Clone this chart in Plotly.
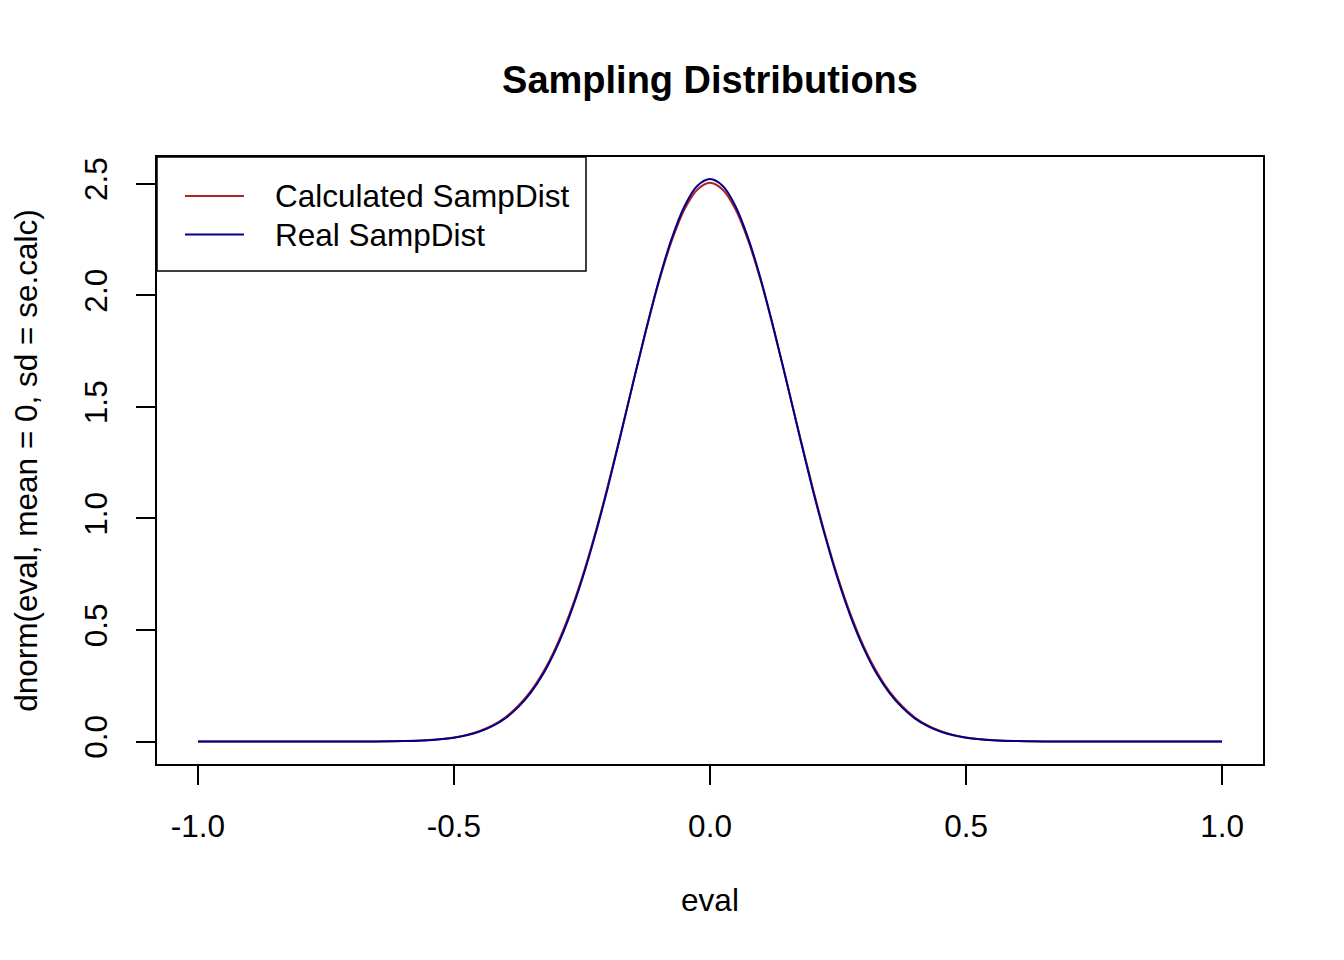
import plotly.graph_objects as go

# ---- data ----
eval_x = [-1.00, -0.95, -0.90, -0.85, -0.80, -0.75, -0.70, -0.65, -0.60, -0.55,
          -0.500, -0.475, -0.450, -0.425, -0.400, -0.375, -0.350, -0.325, -0.300, -0.275,
          -0.250, -0.225, -0.200, -0.175, -0.150, -0.125, -0.100, -0.075, -0.050, -0.025,
          0.000,
          0.025, 0.050, 0.075, 0.100, 0.125, 0.150, 0.175, 0.200, 0.225, 0.250,
          0.275, 0.300, 0.325, 0.350, 0.375, 0.400, 0.425, 0.450, 0.475, 0.500,
          0.55, 0.60, 0.65, 0.70, 0.75, 0.80, 0.85, 0.90, 0.95, 1.00]

calc_density = [0.0, 0.0, 0.0, 0.0, 0.0, 0.0, 0.0001, 0.0006, 0.0021, 0.0066,
                0.0185, 0.0299, 0.047, 0.0723, 0.108, 0.159, 0.226, 0.315, 0.428, 0.568,
                0.734, 0.927, 1.142, 1.373, 1.611, 1.843, 2.059, 2.243, 2.385, 2.474,
                2.505,
                2.474, 2.385, 2.243, 2.059, 1.843, 1.611, 1.373, 1.142, 0.927, 0.734,
                0.568, 0.428, 0.315, 0.226, 0.159, 0.108, 0.0723, 0.047, 0.0299, 0.0185,
                0.0066, 0.0021, 0.0006, 0.0001, 0.0, 0.0, 0.0, 0.0, 0.0, 0.0]

real_density = [0.0, 0.0, 0.0, 0.0, 0.0, 0.0, 0.0001, 0.0005, 0.0019, 0.0060,
                0.0172, 0.0280, 0.0444, 0.0686, 0.104, 0.153, 0.219, 0.306, 0.419, 0.558,
                0.725, 0.919, 1.135, 1.369, 1.610, 1.846, 2.066, 2.254, 2.399, 2.491,
                2.522,
                2.491, 2.399, 2.254, 2.066, 1.846, 1.610, 1.369, 1.135, 0.919, 0.725,
                0.558, 0.419, 0.306, 0.219, 0.153, 0.104, 0.0686, 0.0444, 0.0280, 0.0172,
                0.0060, 0.0019, 0.0005, 0.0001, 0.0, 0.0, 0.0, 0.0, 0.0, 0.0]

series_names = ["Calculated SampDist", "Real SampDist"]
series_colors = ["firebrick", "darkblue"]

x_tick_vals = [-1.0, -0.5, 0.0, 0.5, 1.0]
x_tick_text = ["-1.0", "-0.5", "0.0", "0.5", "1.0"]
y_tick_vals = [0.0, 0.5, 1.0, 1.5, 2.0, 2.5]
y_tick_text = ["0.0", "0.5", "1.0", "1.5", "2.0", "2.5"]

FONT = "Liberation Sans, Arial, Helvetica, sans-serif"
FS = 31.5

fig = go.Figure()
for name, ys, col in zip(series_names, [calc_density, real_density], series_colors):
    fig.add_trace(go.Scatter(x=eval_x, y=ys, mode="lines", name=name,
                             line=dict(color=col, width=2, shape="spline"),
                             showlegend=False))

# page has an 8px body margin; figure drawn at (8, 8)
OFF = 8
W, H = 1344 - 2 * OFF, 960 - 2 * OFF
# target plot area in page pixels: left 157, right 1263, top 157, bottom 764
L, R, T, B = 157, 1263, 157, 764
def px(xp):
    return (xp - L) / (R - L)
def py(yp):
    return (B - yp) / (B - T)

fig.update_layout(
    width=W, height=H,
    margin=dict(l=L - OFF, r=W - (R - OFF), t=T - OFF, b=H - (B - OFF), pad=0),
    paper_bgcolor="white", plot_bgcolor="white",
    font=dict(family=FONT, size=FS, color="black"),
    title=dict(text="<b>Sampling Distributions</b>", x=((L + R) / 2 - OFF) / W, xanchor="center",
               y=1 - (80 - OFF) / H, yanchor="middle", font=dict(size=38, family=FONT, color="black")),
)

fig.update_xaxes(range=[-1.08, 1.08], showgrid=False, zeroline=False, automargin=False,
                 showline=True, linecolor="black", linewidth=1.5, mirror=True,
                 ticks="outside", ticklen=19, tickwidth=1.5, tickcolor="black",
                 tickvals=x_tick_vals, ticktext=x_tick_text,
                 ticklabelstandoff=14,
                 title=dict(text="eval", standoff=46, font=dict(size=FS)))
fig.update_yaxes(range=[-0.1008, 2.6208], showgrid=False, zeroline=False, automargin=False,
                 showline=True, linecolor="black", linewidth=1.5, mirror=True,
                 ticks="outside", ticklen=19, tickwidth=1.5, tickcolor="black",
                 tickvals=y_tick_vals, ticktext=y_tick_text, tickangle=-90,
                 ticklabelstandoff=17,
                 title=dict(text="dnorm(eval, mean = 0, sd = se.calc)", standoff=43,
                            font=dict(size=FS)))

# legend box drawn like R's legend()
fig.add_shape(type="rect", xref="paper", yref="paper",
              x0=px(157), x1=px(586), y0=py(271), y1=py(157),
              line=dict(color="black", width=1.5), fillcolor="white", layer="above")
for i, (name, col) in enumerate(zip(series_names, series_colors)):
    yy = [196, 234.5][i]
    fig.add_shape(type="line", xref="paper", yref="paper",
                  x0=px(185), x1=px(244), y0=py(yy), y1=py(yy),
                  line=dict(color=col, width=2), layer="above")
    fig.add_annotation(xref="paper", yref="paper", x=px(273), y=py(yy),
                       xanchor="left", yanchor="middle", showarrow=False,
                       text=name, font=dict(size=FS, family=FONT, color="black"))

fig.write_html("out.html")
